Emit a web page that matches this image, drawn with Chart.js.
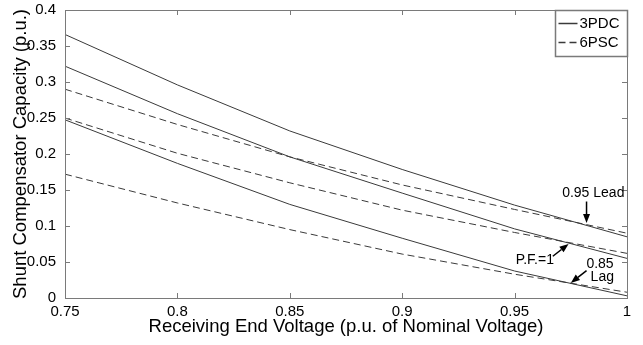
<!DOCTYPE html>
<html>
<head>
<meta charset="utf-8">
<script src="https://cdn.jsdelivr.net/npm/chart.js@4/dist/chart.umd.min.js"></script>
<style>
html, body { margin: 0; padding: 0; background: #fff; }
</style>
</head>
<body>
<canvas id="compensator" width="643" height="345"></canvas>
<script>
// receiving end voltage (p.u.)
var voltage = [0.75, 0.8, 0.85, 0.9, 0.95, 1.0];

// 3PDC shunt capacity
var pdcLead = [0.366, 0.296, 0.232, 0.1785, 0.129, 0.085];
var pdcUnity = [0.322, 0.256, 0.196, 0.1457, 0.096, 0.055];
var pdcLag = [0.2475, 0.187, 0.130, 0.083, 0.0375, 0.003];

// 6PSC shunt capacity
var pscLead = [0.290, 0.241, 0.196, 0.157, 0.123, 0.090];
var pscUnity = [0.250, 0.201, 0.160, 0.122, 0.091, 0.062];
var pscLag = [0.172, 0.132, 0.095, 0.061, 0.033, 0.008];

var xTicks = [0.75, 0.8, 0.85, 0.9, 0.95, 1];
var yTicks = [0, 0.05, 0.1, 0.15, 0.2, 0.25, 0.3, 0.35, 0.4];

var FONT = '"Liberation Sans", Arial, sans-serif';
var LINE = '#3a3a3a';
var AXIS = '#7a7a7a';

function pts(ys) {
    return voltage.map(function (v, i) { return {x: v, y: ys[i]}; });
}

function series(label, ys, dashed) {
    return {
        label: label,
        data: pts(ys),
        borderColor: LINE,
        borderWidth: 1,
        borderDash: dashed ? [7, 4] : [],
        pointRadius: 0,
        tension: 0,
        fill: false
    };
}

function fmt(v) {
    return parseFloat(Number(v).toFixed(2)).toString();
}

// text + arrow callouts, in data units
var notes = [
    {text: '0.95 Lead', x: 0.985, y: 0.146, from: [0.982, 0.134], to: [0.982, 0.104]},
    {text: 'P.F.=1', x: 0.959, y: 0.053, from: [0.967, 0.058], to: [0.974, 0.075]},
    {text: '0.85', x: 0.988, y: 0.047, from: [0.982, 0.038], to: [0.975, 0.021]},
    {text: 'Lag', x: 0.989, y: 0.029}
];

function arrow(ctx, x1, y1, x2, y2) {
    var a = Math.atan2(y2 - y1, x2 - x1);
    var len = 9, w = 3.5;
    var bx = x2 - len * Math.cos(a), by = y2 - len * Math.sin(a);
    ctx.beginPath();
    ctx.moveTo(x1, y1);
    ctx.lineTo(bx, by);
    ctx.lineWidth = 1.5;
    ctx.strokeStyle = '#000';
    ctx.stroke();
    ctx.beginPath();
    ctx.moveTo(x2, y2);
    ctx.lineTo(bx + w * Math.sin(a), by - w * Math.cos(a));
    ctx.lineTo(bx - w * Math.sin(a), by + w * Math.cos(a));
    ctx.closePath();
    ctx.fillStyle = '#000';
    ctx.fill();
}

var matlabAxes = {
    id: 'matlabAxes',
    afterDatasetsDraw: function (chart) {
        var ctx = chart.ctx, a = chart.chartArea;
        var xs = chart.scales.x, ys = chart.scales.y;
        ctx.save();
        ctx.setLineDash([]);

        // inward ticks on all four sides
        ctx.strokeStyle = AXIS;
        ctx.lineWidth = 1;
        ctx.beginPath();
        xTicks.forEach(function (v) {
            var px = Math.round(xs.getPixelForValue(v)) + 0.5;
            ctx.moveTo(px, a.bottom); ctx.lineTo(px, a.bottom - 5);
            ctx.moveTo(px, a.top); ctx.lineTo(px, a.top + 5);
        });
        yTicks.forEach(function (v) {
            var py = Math.round(ys.getPixelForValue(v)) + 0.5;
            ctx.moveTo(a.left, py); ctx.lineTo(a.left + 5, py);
            ctx.moveTo(a.right, py); ctx.lineTo(a.right - 5, py);
        });
        ctx.stroke();
        ctx.strokeRect(Math.round(a.left) + 0.5, Math.round(a.top) + 0.5,
            Math.round(a.right - a.left), Math.round(a.bottom - a.top));

        // callouts
        ctx.font = '14px ' + FONT;
        ctx.fillStyle = '#000';
        ctx.textAlign = 'center';
        ctx.textBaseline = 'middle';
        notes.forEach(function (n) {
            ctx.fillText(n.text, xs.getPixelForValue(n.x), ys.getPixelForValue(n.y));
            if (n.from) {
                arrow(ctx, xs.getPixelForValue(n.from[0]), ys.getPixelForValue(n.from[1]),
                    xs.getPixelForValue(n.to[0]), ys.getPixelForValue(n.to[1]));
            }
        });

        // legend box in the top right corner
        var bw = 72, bh = 46;
        var bx = Math.round(a.right) - bw + 0.5, by = Math.round(a.top) + 0.5;
        ctx.fillStyle = '#fff';
        ctx.fillRect(bx, by, bw, bh);
        ctx.strokeStyle = AXIS;
        ctx.strokeRect(bx, by, bw, bh);
        ctx.font = '15px ' + FONT;
        ctx.textAlign = 'left';
        [chart.data.datasets[0], chart.data.datasets[3]].forEach(function (ds, i) {
            var ly = by + 13 + i * 19;
            ctx.strokeStyle = LINE;
            ctx.setLineDash(ds.borderDash);
            ctx.beginPath();
            ctx.moveTo(bx + 3, ly);
            ctx.lineTo(bx + 22, ly);
            ctx.stroke();
            ctx.setLineDash([]);
            ctx.fillStyle = '#000';
            ctx.fillText(ds.label, bx + 24, ly);
        });
        ctx.restore();
    }
};

new Chart(document.getElementById('compensator'), {
    type: 'line',
    data: {
        datasets: [
            series('3PDC', pdcLead, false),
            series('3PDC', pdcUnity, false),
            series('3PDC', pdcLag, false),
            series('6PSC', pscLead, true),
            series('6PSC', pscUnity, true),
            series('6PSC', pscLag, true)
        ]
    },
    options: {
        responsive: false,
        animation: false,
        devicePixelRatio: 1,
        layout: {padding: {top: 6, right: 16, left: 0, bottom: 0}},
        plugins: {legend: {display: false}, tooltip: {enabled: false}},
        scales: {
            x: {
                type: 'linear',
                min: 0.75,
                max: 1,
                afterBuildTicks: function (s) { s.ticks = xTicks.map(function (v) { return {value: v}; }); },
                afterFit: function (s) { s.height = 47; },
                grid: {display: false},
                border: {display: false},
                ticks: {
                    color: '#000', padding: -3, maxRotation: 0, autoSkip: false,
                    font: {family: FONT, size: 15},
                    callback: fmt
                },
                title: {
                    display: true, text: 'Receiving End Voltage (p.u. of Nominal Voltage)',
                    color: '#000', font: {family: FONT, size: 18.5}, padding: {top: 0, bottom: 7}
                }
            },
            y: {
                min: 0,
                max: 0.4,
                afterBuildTicks: function (s) { s.ticks = yTicks.map(function (v) { return {value: v}; }); },
                afterFit: function (s) { s.width = 65; },
                grid: {display: false},
                border: {display: false},
                ticks: {
                    color: '#000', padding: 1, autoSkip: false,
                    font: {family: FONT, size: 15},
                    callback: fmt
                },
                title: {
                    display: true, text: 'Shunt Compensator Capacity (p.u.)',
                    color: '#000', font: {family: FONT, size: 18.5}, padding: {top: 10, bottom: 0}
                }
            }
        }
    },
    plugins: [matlabAxes]
});
</script>
</body>
</html>
